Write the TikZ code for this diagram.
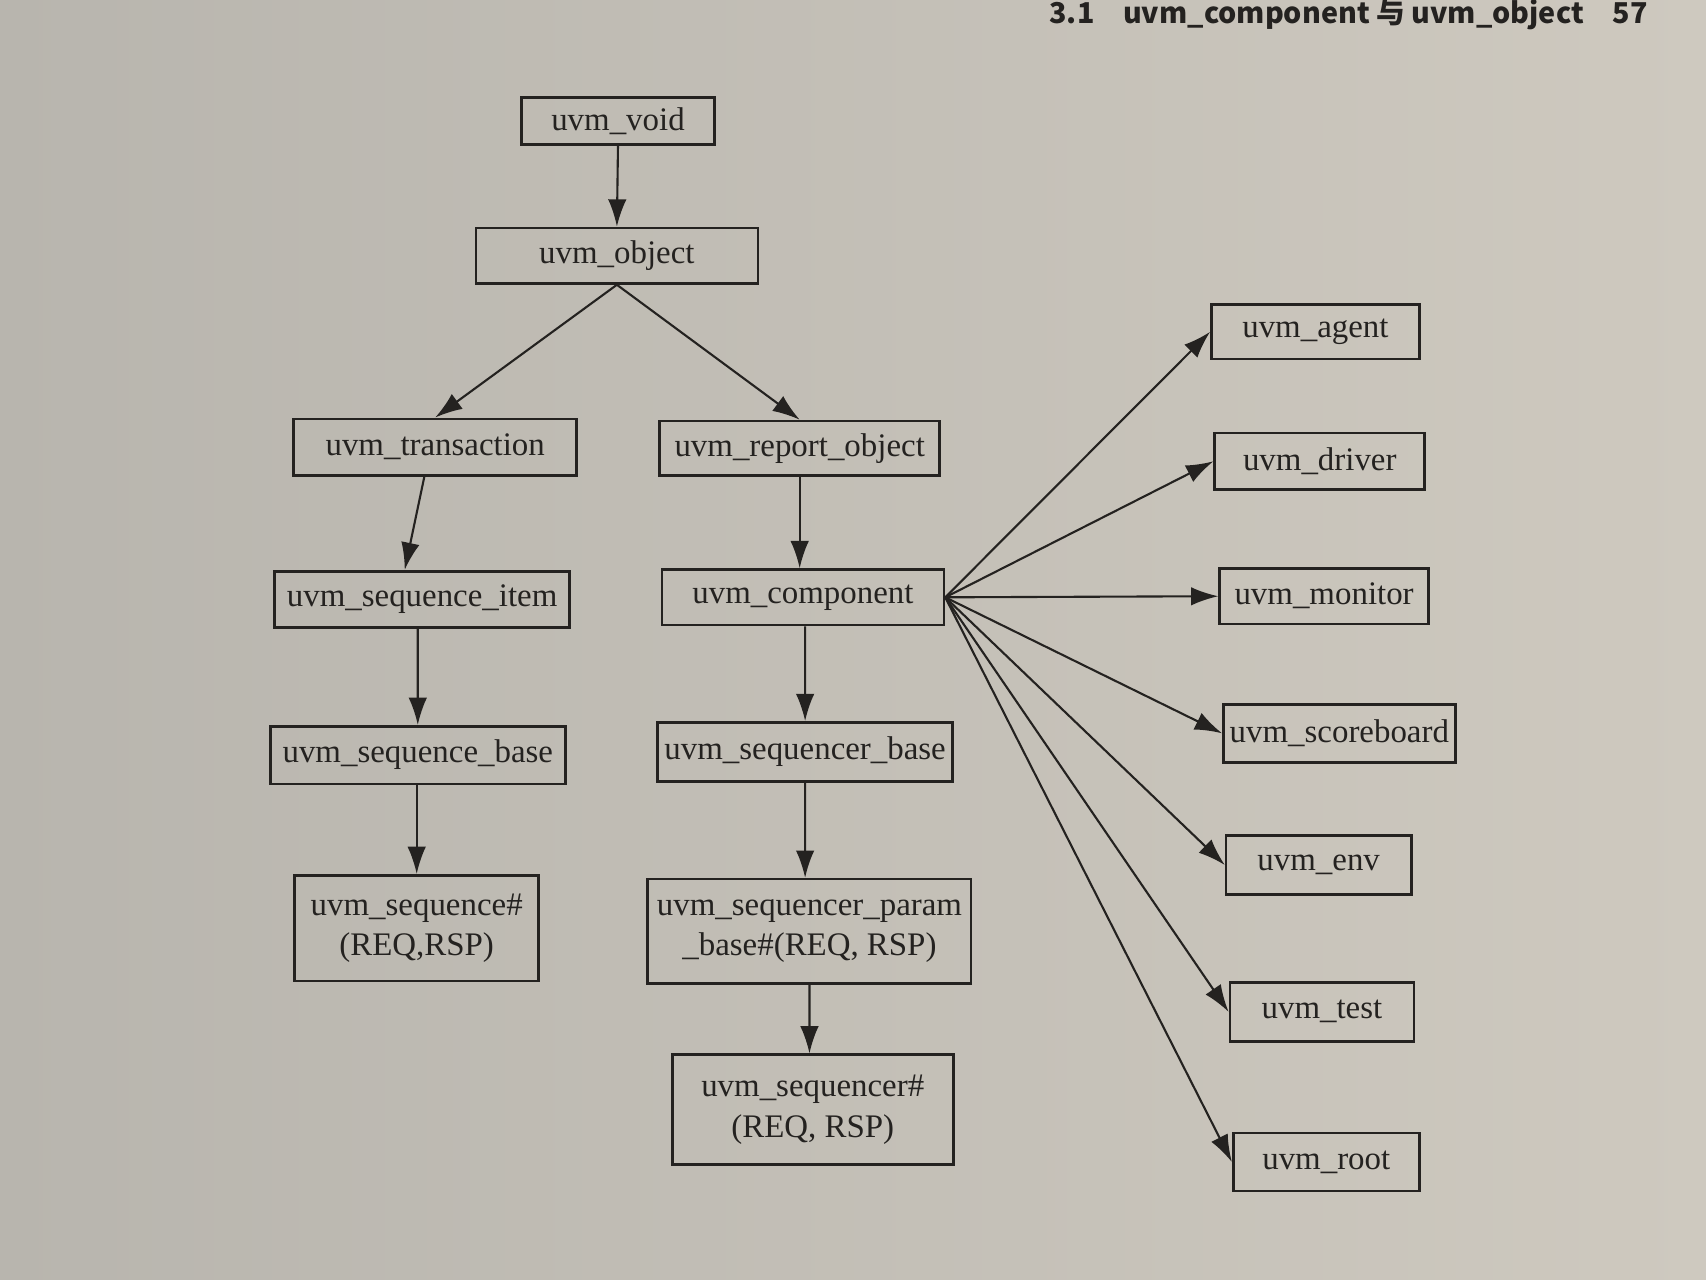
\documentclass[tikz,border=0pt]{standalone}
\usepackage{fontspec}
\setmainfont{Liberation Serif}
\newfontfamily\cjk{Noto Sans CJK SC}
\usetikzlibrary{arrows.meta}
\definecolor{paperL}{RGB}{184,181,174}
\definecolor{paperR}{RGB}{206,201,191}
\definecolor{ink}{RGB}{36,34,32}

\begin{document}
\begin{tikzpicture}[x=0.01cm,y=-0.01cm,
    cls/.style={draw=ink, line width=0.7pt, text=ink, inner sep=1pt, align=center,
        minimum height=0.51cm, font=\fontsize{8.6}{10.5}\selectfont},
    inh/.style={-{Latex[length=0.25cm,width=0.17cm]}, draw=ink, line width=0.55pt}]
    \useasboundingbox (0,0) rectangle (1568,1176);
    \shade[left color=paperL, right color=paperR] (0,0) rectangle (1568,1176);
    \node[anchor=base east, text=ink, inner sep=0pt, font=\cjk\bfseries\fontsize{7.5}{9}\selectfont] (hdr) at (1515,22)
    {3.1\quad uvm\_component 与 uvm\_object\quad 57};

    % object side
    \node[cls, minimum width=1.77cm, minimum height=0.43cm] (void) at (568,111) {uvm\_void};
    \node[cls, minimum width=2.59cm] (obj) at (567,235) {uvm\_object};
    \node[cls, minimum width=2.60cm, minimum height=0.52cm] (trans) at (400,411) {uvm\_transaction};
    \node[cls, minimum width=2.57cm, minimum height=0.50cm] (report) at (735,412) {uvm\_report\_object};
    \node[cls, minimum width=2.71cm, minimum height=0.52cm] (item) at (388,551) {uvm\_sequence\_item};
    \node[cls, minimum width=2.59cm] (comp) at (738,549) {uvm\_component};
    \node[cls, minimum width=2.71cm, minimum height=0.53cm] (seqbase) at (384,694) {uvm\_sequence\_base};
    \node[cls, minimum width=2.71cm, minimum height=0.54cm] (sqrbase) at (740,691) {uvm\_sequencer\_base};
    \node[cls, minimum width=2.24cm, minimum height=0.97cm] (seq) at (383,853) {uvm\_sequence\#\\(REQ,RSP)};
    \node[cls, minimum width=2.97cm, minimum height=0.96cm] (param) at (744,856) {uvm\_sequencer\_param\\\_base\#(REQ, RSP)};
    \node[cls, minimum width=2.58cm, minimum height=1.01cm] (sqr) at (747,1020) {uvm\_sequencer\#\\(REQ, RSP)};

    % component children
    \node[cls, minimum width=1.91cm, minimum height=0.50cm] (agent) at (1209,305) {uvm\_agent};
    \node[cls, minimum width=1.93cm, minimum height=0.52cm] (driver) at (1213,424) {uvm\_driver};
    \node[cls, minimum width=1.92cm] (monitor) at (1217,548) {uvm\_monitor};
    \node[cls, minimum width=2.13cm, minimum height=0.53cm] (score) at (1231,674) {uvm\_scoreboard};
    \node[cls, minimum width=1.70cm, minimum height=0.54cm] (env) at (1212,795) {uvm\_env};
    \node[cls, minimum width=1.69cm, minimum height=0.54cm] (test) at (1215,930) {uvm\_test};
    \node[cls, minimum width=1.71cm, minimum height=0.53cm] (root) at (1219,1068) {uvm\_root};

    \draw[inh] (void.south) -- (obj.north);
    \draw[inh] (obj.south) -- (trans.north);
    \draw[inh] (obj.south) -- (report.north);
    \draw[inh] ([xshift=-0.1cm]trans.south) -- ([xshift=-0.16cm]item.north);
    \draw[inh] (report.south) -- (report.south |- comp.north);
    \draw[inh] ([xshift=-0.04cm]item.south) -- (seqbase.north);
    \draw[inh] (seqbase.south -| seq.north) -- (seq.north);
    \draw[inh] ([xshift=0.02cm]comp.south) -- (sqrbase.north);
    \draw[inh] (sqrbase.south) -- ([xshift=-0.04cm]param.north);
    \draw[inh] (param.south) -- ([xshift=-0.03cm]sqr.north);
    \foreach \kid in {agent,driver,monitor,score,env,test,root}
        \draw[inh] (comp.east) -- (\kid.west);
\end{tikzpicture}
\end{document}
